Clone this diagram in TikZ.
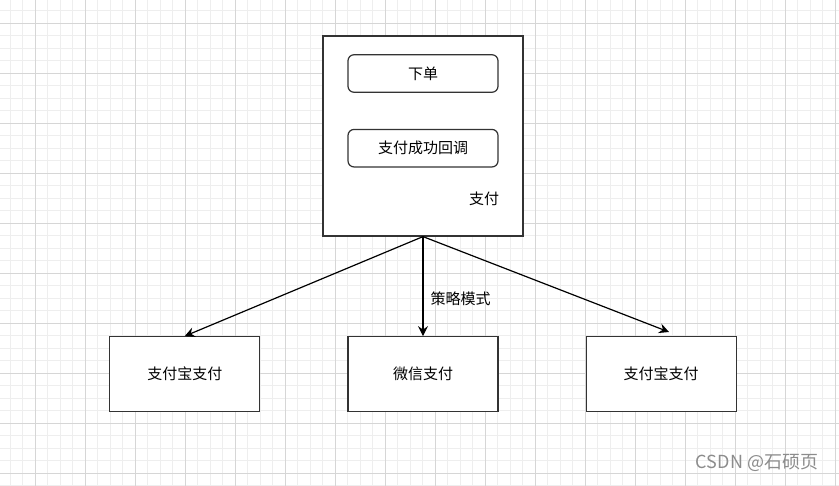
\documentclass[tikz,border=0pt]{standalone}
\usepackage{fontspec}
\newfontfamily\cjk{Noto Sans CJK SC}
\usetikzlibrary{arrows.meta,positioning}
\definecolor{edgegrey}{HTML}{333333}
\definecolor{gridminor}{HTML}{EEEEEE}
\definecolor{gridmajor}{HTML}{D6D6D6}
\definecolor{wmgrey}{HTML}{8C8C8C}
\tikzset{
  box/.style={rectangle, draw=edgegrey, fill=white, line width=1.2pt,
              minimum width=150pt, minimum height=75pt, inner sep=0pt,
              font=\cjk\fontsize{15}{18}\selectfont},
  bigbox/.style={box, minimum width=200pt, minimum height=200pt},
  stepbox/.style={box, rounded corners=6pt, minimum height=37.5pt},
  lbl/.style={inner sep=0pt, font=\cjk\fontsize{15}{18}\selectfont},
  flow/.style={-{Stealth[length=10pt, width=10pt, inset=3.5pt]}, draw=black, line width=1.2pt},
  minorline/.style={draw=gridminor, line width=0.8pt},
  majorline/.style={draw=gridmajor, line width=0.9pt},
}
\begin{document}
\begin{tikzpicture}[x=1pt, y=-1pt]
\useasboundingbox (0,0) rectangle (839,486);
\fill[white] (0,0) rectangle (839,486);
% grid
\foreach \i in {0,...,66} \draw[minorline] ({10+12.5*\i},0) -- ({10+12.5*\i},486);
\foreach \j in {0,...,38} \draw[minorline] (0,{10.8+12.5*\j}) -- (839,{10.8+12.5*\j});
\foreach \i in {0,...,16} \draw[majorline] ({35+50*\i},0) -- ({35+50*\i},486);
\foreach \j in {0,...,9} \draw[majorline] (0,{23.3+50*\j}) -- (839,{23.3+50*\j});

% container
\node[bigbox] (pay) at (423,136) {};
\node[stepbox] (order) at (423,73.5) {下单};
\node[stepbox] (callback) at (423,148.2) {支付成功回调};
\node[lbl] (paytxt) at (484,199) {支付};

% strategies
\node[box, below=99.5pt of pay] (wechat) {微信支付};
\node[box, left=87pt of wechat] (alipay) {支付宝支付};
\node[box, right=87pt of wechat] (alipay2) {支付宝支付};
\coordinate (rightend) at (669,332);

\draw[flow] (pay.south) -- (alipay.north);
\draw[flow] (pay.south) -- (wechat.north)
  node[lbl, pos=0.63, right=7pt] (strategy) {策略模式};
\draw[flow] (pay.south) -- (rightend);

% watermark
\node[inner sep=0pt, text=wmgrey, font=\cjk\fontsize{18}{21}\selectfont] (csdn) at (757,463) {CSDN @石硕页};
\end{tikzpicture}
\end{document}
